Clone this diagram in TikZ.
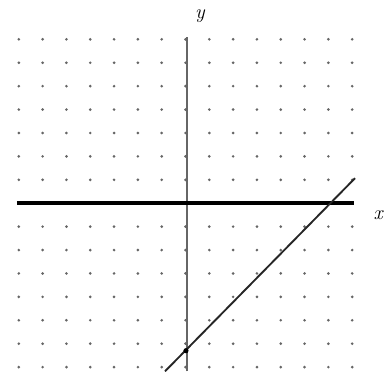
\documentclass[tikz,border=0pt]{standalone}
\usepackage{tikz}
\usetikzlibrary{positioning}
\tikzset{
  griddot/.style={fill=black!60},
  xaxisline/.style={line width=3.4pt,draw=black},
  yaxisline/.style={line width=2.4pt,draw=black!60},
  graphline/.style={line width=1.6pt,draw=black!85},
  axislabel/.style={font=\LARGE\itshape,inner sep=1pt},
}

\begin{document}
\begin{tikzpicture}[x=0.714cm,y=0.702cm]
  \useasboundingbox (-7.79,-7.18) rectangle (8.63,8.68);
  % dot grid
  \foreach \i in {-7,...,7}
    \foreach \j in {-7,...,7}
      \fill[griddot] (\i,\j) circle (1.25pt);
  % axes
  \coordinate (xl) at (-7.08,0);
  \coordinate (xr) at (7.06,0);
  \coordinate (yt) at (0.06,7.1);
  \coordinate (yb) at (0.06,-7.18);
  \draw[yaxisline] (yb) -- (yt);
  \draw[xaxisline] (xl) -- (xr);
  \node[axislabel] (ylab) at (0.61,8.0) {y};
  \node[axislabel] (xlab) at (8.09,-0.51) {x};
  % the line
  \coordinate (lb) at (-0.86,-7.18);
  \coordinate (lt) at (7.12,1.07);
  \draw[graphline] (lb) -- (lt);
  \fill[black] (0.02,-6.3) circle (2.2pt);
\end{tikzpicture}
\end{document}
